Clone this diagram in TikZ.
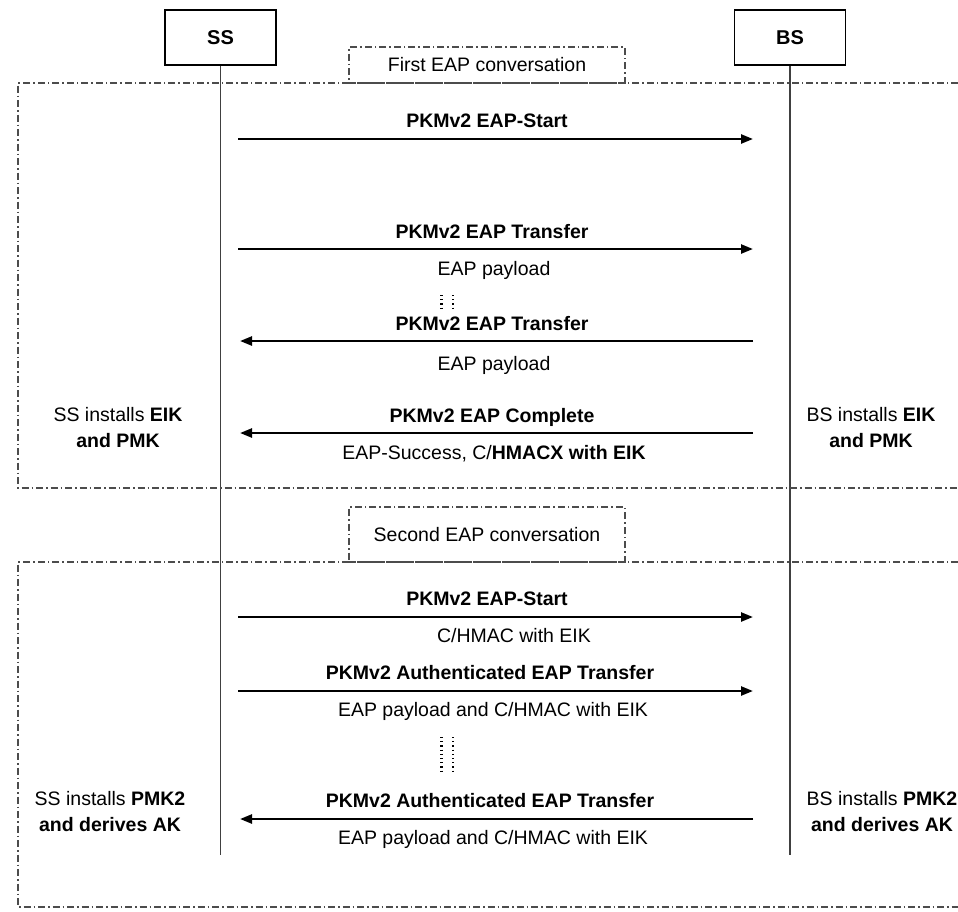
\documentclass[tikz,border=0pt]{standalone}
\usepackage{fontspec}
\setmainfont{Liberation Sans}
\usetikzlibrary{arrows.meta}

\tikzset{
  entity/.style={draw, line width=1.4pt, minimum width=111pt, minimum height=55pt,
    font=\fontsize{20}{24}\selectfont\bfseries},
  lifeline/.style={draw=black!75, line width=1.8pt},
  frame/.style={draw=black!70, line width=1.2pt, dash pattern=on 7pt off 3pt on 1.5pt off 3pt},
  tag/.style={frame, minimum width=276pt, inner sep=0pt},
  msg/.style={line width=2.4pt, -{Triangle[length=12pt,width=9pt]}},
  msgname/.style={anchor=base, inner sep=0pt, font=\fontsize{19.5}{26}\selectfont\bfseries},
  msgnote/.style={anchor=base, inner sep=0pt},
  install/.style={align=center, inner sep=0pt},
  gap/.style={line width=#1, dash pattern=on 1.2pt off 3pt}
}

\begin{document}
\begin{tikzpicture}[x=1pt,y=-1pt,font=\fontsize{19.5}{26}\selectfont]
  \useasboundingbox (0,0) rectangle (958,911);

  % stations
  \draw
    (220.5,37.5) node[entity] (ss){SS}
    (790,37.5) node[entity] (bs){BS};
  \draw
    (220.5,855) coordinate (ssend)
    (790,855) coordinate (bsend);
  \draw[lifeline] (ss) -- (ssend);
  \draw[lifeline] (bs) -- (bsend);

  % conversations
  \draw[frame] (958,83) -- (18,83) -- (18,488) -- (958,488);
  \draw[frame] (958,562) -- (18,562) -- (18,907) -- (958,907);
  \node[tag, minimum height=36pt] (first) at (487,65) {First EAP conversation};
  \node[tag, minimum height=55pt] (second) at (487,534.5) {Second EAP conversation};

  % message ends
  \draw
    (238,139) coordinate (s1) (753,139) coordinate (b1)
    (238,249) coordinate (s2) (753,249) coordinate (b2)
    (240,341) coordinate (s3) (753,341) coordinate (b3)
    (240,433) coordinate (s4) (753,433) coordinate (b4)
    (238,617) coordinate (s5) (753,617) coordinate (b5)
    (238,691) coordinate (s6) (753,691) coordinate (b6)
    (240,819) coordinate (s7) (753,819) coordinate (b7);
  \begin{scope}[msg]
    \draw (s1) to (b1);
    \draw (s2) to (b2);
    \draw (b3) to (s3);
    \draw (b4) to (s4);
    \draw (s5) to (b5);
    \draw (s6) to (b6);
    \draw (b7) to (s7);
  \end{scope}

  % message names and payloads
  \node[msgname] (n1) at (487,127) {PKMv2 EAP-Start};
  \node[msgname] (n2) at (492,238) {PKMv2 EAP Transfer};
  \node[msgnote] (p2) at (494,275) {EAP payload};
  \node[msgname] (n3) at (492,330) {PKMv2 EAP Transfer};
  \node[msgnote] (p3) at (494,370) {EAP payload};
  \node[msgname] (n4) at (492,422) {PKMv2 EAP Complete};
  \node[msgnote] (p4) at (494,459) {EAP-Success, C/\textbf{HMACX with EIK}};
  \node[msgname] (n5) at (487,605) {PKMv2 EAP-Start};
  \node[msgnote] (p5) at (514,642) {C/HMAC with EIK};
  \node[msgname] (n6) at (490,679) {PKMv2 Authenticated EAP Transfer};
  \node[msgnote] (p6) at (493,716) {EAP payload and C/HMAC with EIK};
  \node[msgname] (n7) at (490,807) {PKMv2 Authenticated EAP Transfer};
  \node[msgnote] (p7) at (493,844) {EAP payload and C/HMAC with EIK};

  % more messages in between
  \draw
    (441,295) coordinate (d1) (441,310) coordinate (d2)
    (453,295) coordinate (d3) (453,310) coordinate (d4)
    (441,737) coordinate (d5) (441,773) coordinate (d6)
    (453,737) coordinate (d7) (453,773) coordinate (d8);
  \draw[gap=3pt] (d1) -- (d2);
  \draw[gap=1.2pt] (d3) -- (d4);
  \draw[gap=3pt] (d5) -- (d6);
  \draw[gap=1.2pt] (d7) -- (d8);

  % keys installed
  \node[install] (sskeys1) at (118,428) {SS installs \textbf{EIK}\\\textbf{and PMK}};
  \node[install] (bskeys1) at (871,428) {BS installs \textbf{EIK}\\\textbf{and PMK}};
  \node[install] (sskeys2) at (110,812) {SS installs \textbf{PMK2}\\\textbf{and derives AK}};
  \node[install] (bskeys2) at (882,812) {BS installs \textbf{PMK2}\\\textbf{and derives AK}};
\end{tikzpicture}
\end{document}
